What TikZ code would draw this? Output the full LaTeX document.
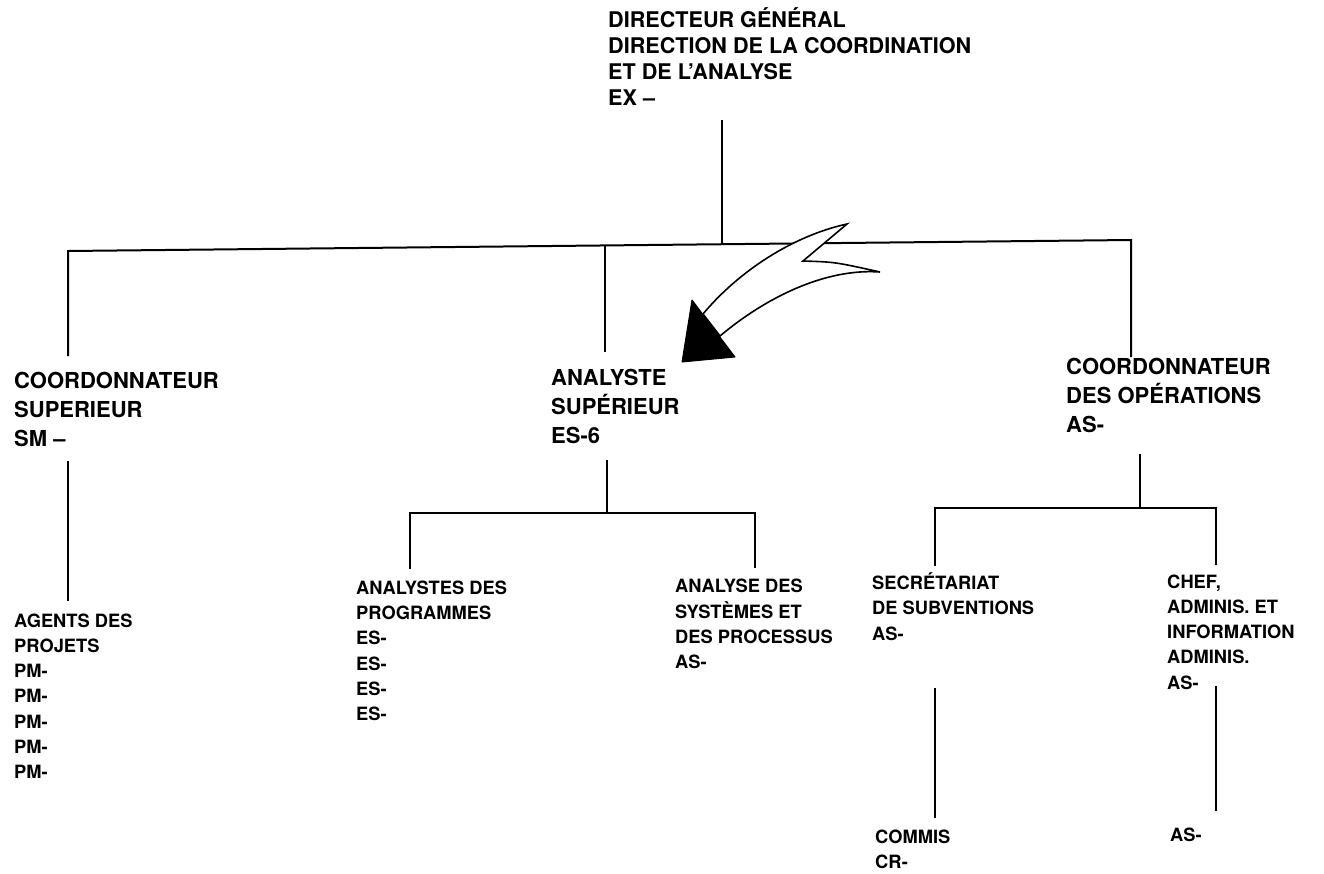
\documentclass[tikz,border=0pt]{standalone}
\usepackage{fontspec}
\setmainfont{TeX Gyre Heros}
\begin{document}
\begin{tikzpicture}[x=1pt,y=-1pt,
  conn/.style={line width=2pt,black},
  bigtxt/.style={anchor=base west,inner sep=0pt,align=left,font={\fontsize{22}{29}\selectfont\bfseries}},
  toptxt/.style={bigtxt,font={\fontsize{21.6}{26}\selectfont\bfseries}},
  smalltxt/.style={anchor=base west,inner sep=0pt,align=left,font={\fontsize{18.3}{25.2}\selectfont\bfseries}},
  arrowbody/.style={line width=1.6pt,fill=white,line join=miter},
  arrowtip/.style={fill=black,draw=black,line width=1pt,line join=round}]
\useasboundingbox (0,0) rectangle (1324,873);

% text blocks (anchored at the baseline of their last line)
\node[toptxt] (dg) at (608,105.5) {DIRECTEUR GÉNÉRAL\\DIRECTION DE LA COORDINATION\\ET DE L’ANALYSE\\EX –};
\node[bigtxt] (cs) at (14,446) {COORDONNATEUR\\SUPERIEUR\\SM –};
\node[bigtxt] (as) at (551,443) {ANALYSTE\\SUPÉRIEUR\\ES-6};
\node[bigtxt] (co) at (1066,432) {COORDONNATEUR\\DES OPÉRATIONS\\AS-};
\node[smalltxt] (ap) at (14,778.5) {AGENTS DES\\PROJETS\\PM-\\PM-\\PM-\\PM-\\PM-};
\node[smalltxt] (anp) at (356,720.5) {ANALYSTES DES\\PROGRAMMES\\ES-\\ES-\\ES-\\ES-};
\node[smalltxt] (asp) at (675,668.5) {ANALYSE DES\\SYSTÈMES ET\\DES PROCESSUS\\AS-};
\node[smalltxt] (sec) at (872,640) {SECRÉTARIAT\\DE SUBVENTIONS\\AS-};
\node[smalltxt] (chef) at (1167,689) {CHEF,\\ADMINIS. ET\\INFORMATION\\ADMINIS.\\AS-};
\node[smalltxt] (com) at (875,868.5) {COMMIS\\CR-};
\node[smalltxt] (as2) at (1170,841.5) {AS-};

% junction coordinates
\coordinate (dgb) at (722,120);
\coordinate (j1) at (722,244.2);
\coordinate (l1) at (68,251);
\coordinate (l1b) at (68,356);
\coordinate (m1) at (605,245.4);
\coordinate (m1b) at (605,352);
\coordinate (r1) at (1131,240);
\coordinate (r1b) at (1131,357);
\coordinate (lcs) at (68,461);
\coordinate (lap) at (68,601);
\coordinate (mas) at (607,460);
\coordinate (j2) at (607,513);
\coordinate (j2l) at (410,513);
\coordinate (j2lb) at (410,569);
\coordinate (j2r) at (755,513);
\coordinate (j2rb) at (755,568);
\coordinate (rco) at (1140,454);
\coordinate (j3) at (1140,508);
\coordinate (j3l) at (935,508);
\coordinate (j3lb) at (935,566);
\coordinate (j3r) at (1216,508);
\coordinate (j3rb) at (1216,565);
\coordinate (sect) at (935,688);
\coordinate (secb) at (935,818);
\coordinate (chft) at (1216,686);
\coordinate (chfb) at (1216,811);

% connectors
\draw[conn] (dgb) -- (j1);
\draw[conn] (l1b) -- (l1) -- (r1) -- (r1b);
\draw[conn] (m1) -- (m1b);
\draw[conn] (lcs) -- (lap);
\draw[conn] (mas) -- (j2);
\draw[conn] (j2lb) -- (j2l) -- (j2r) -- (j2rb);
\draw[conn] (rco) -- (j3);
\draw[conn] (j3lb) -- (j3l) -- (j3r) -- (j3rb);
\draw[conn] (sect) -- (secb);
\draw[conn] (chft) -- (chfb);

% big curved arrow
\coordinate (aA) at (847,224);
\coordinate (aN) at (803,261);
\coordinate (aB) at (880,272);
\coordinate (aL) at (720,336);
\coordinate (aU) at (703,314);
\coordinate (aT1) at (692,300);
\coordinate (aT2) at (735,357);
\coordinate (aTip) at (682,362);
\draw[arrowbody] (aA) -- (aN) .. controls (835,262) .. (aB)
  .. controls (825,268) and (765,298) .. (aL) -- (aU)
  .. controls (738,272) and (792,236) .. (aA) -- cycle;
\draw[arrowtip] (aT1) -- (aT2) -- (aTip) -- cycle;
\end{tikzpicture}
\end{document}
